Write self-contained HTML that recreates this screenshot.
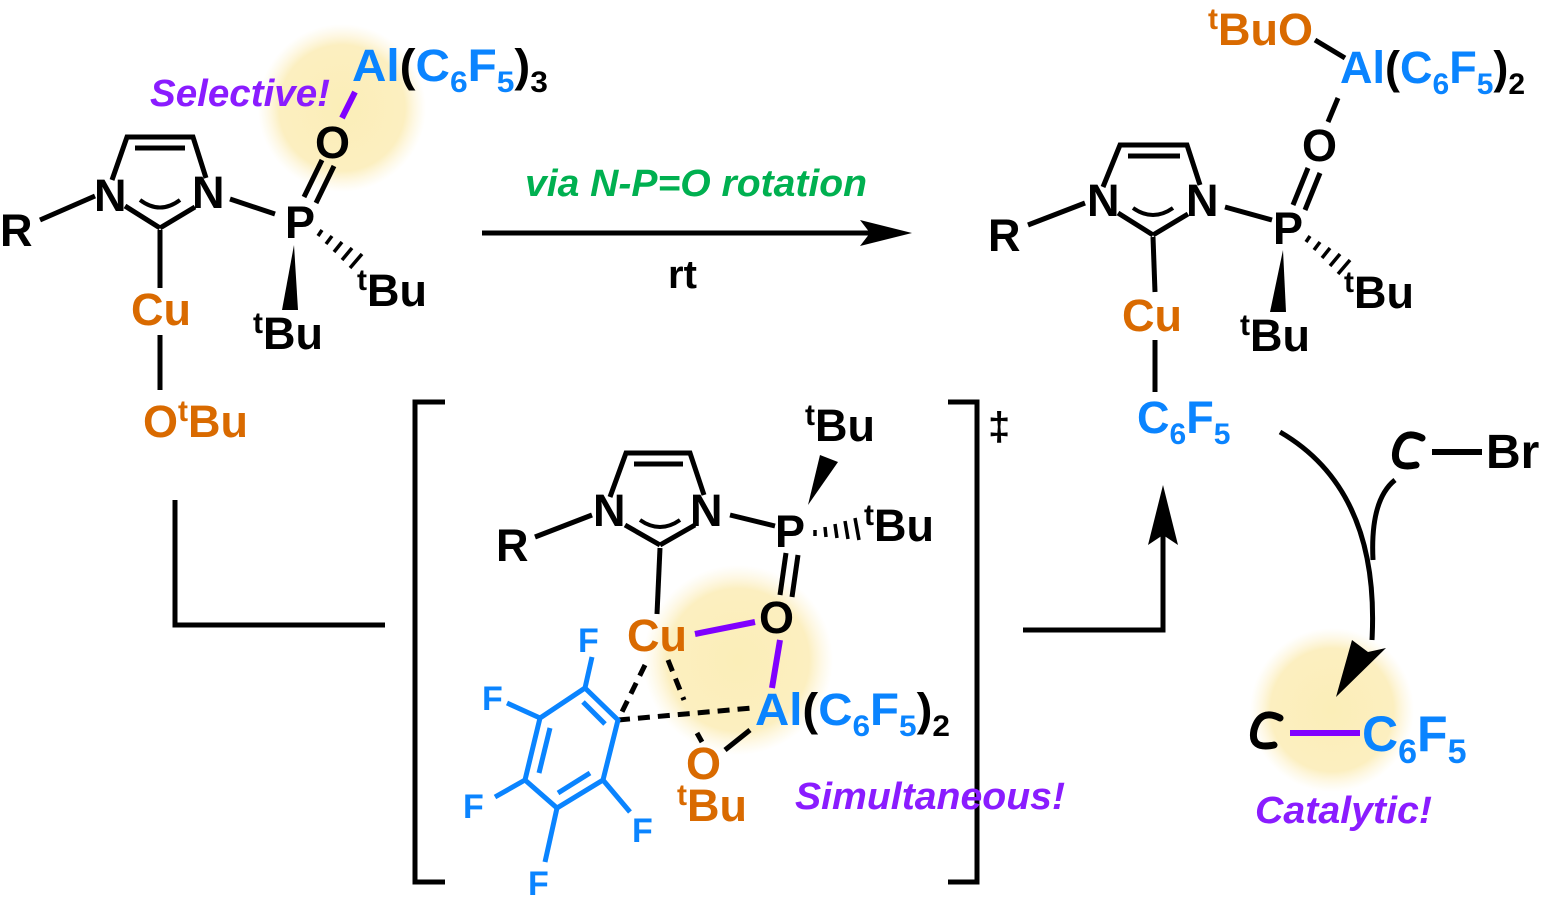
<!DOCTYPE html>
<html><head><style>
html,body{margin:0;padding:0;background:#fff;}
svg{display:block;}
text{font-family:"Liberation Sans",sans-serif;font-weight:bold;}
</style></head><body>
<svg width="1545" height="907" viewBox="0 0 1545 907" xmlns="http://www.w3.org/2000/svg">
<defs>
<radialGradient id="g"><stop offset="0" stop-color="#fbeeb8"/><stop offset="0.75" stop-color="#fcefc0"/><stop offset="1" stop-color="#fdf4d6" stop-opacity="0"/></radialGradient>
</defs>
<circle cx="342" cy="108" r="84" fill="url(#g)"/>
<circle cx="738" cy="660" r="95" fill="url(#g)"/>
<circle cx="1332" cy="710" r="82" fill="url(#g)"/>

<g stroke="#000" stroke-width="5" fill="none" stroke-linecap="butt">
<line x1="40" y1="220" x2="95" y2="196"/>
<polyline points="112,180 127,137 193,137 206,178"/>
<line x1="135" y1="148" x2="185" y2="148"/>
<line x1="125" y1="206" x2="160" y2="228"/>
<line x1="160" y1="228" x2="195" y2="207"/>
<path d="M140,200 Q160,215 180,200" stroke-width="4"/>
<line x1="160" y1="230" x2="160" y2="288"/>
<line x1="160" y1="335" x2="160" y2="390"/>
<line x1="230" y1="199" x2="275" y2="214"/>
<line x1="304" y1="197" x2="322" y2="160"/>
<line x1="316" y1="203" x2="334" y2="166"/>
<line x1="1028" y1="225" x2="1085" y2="203"/>
<polyline points="1103,187 1120,145 1187,145 1200,185"/>
<line x1="1128" y1="156" x2="1180" y2="156"/>
<line x1="1118" y1="213" x2="1153" y2="235"/>
<line x1="1153" y1="235" x2="1188" y2="214"/>
<path d="M1133,208 Q1153,222 1173,208" stroke-width="4"/>
<line x1="1153" y1="237" x2="1155" y2="292"/>
<line x1="1155" y1="340" x2="1155" y2="392"/>
<line x1="1225" y1="207" x2="1272" y2="220"/>
<line x1="1293" y1="205" x2="1308" y2="168"/>
<line x1="1305" y1="210" x2="1320" y2="173"/>
<line x1="1328" y1="122" x2="1338" y2="98"/>
<line x1="1315" y1="40" x2="1345" y2="58"/>
<line x1="535" y1="537" x2="592" y2="515"/>
<polyline points="610,497 626,453 690,453 704,495"/>
<line x1="634" y1="464" x2="683" y2="464"/>
<line x1="625" y1="525" x2="660" y2="545"/>
<line x1="660" y1="545" x2="695" y2="525"/>
<path d="M640,520 Q660,534 680,520" stroke-width="4"/>
<line x1="660" y1="548" x2="657" y2="614"/>
<line x1="730" y1="515" x2="775" y2="526"/>
<line x1="786" y1="553" x2="780" y2="595"/>
<line x1="798" y1="555" x2="792" y2="597"/>
<g stroke-dasharray="12,8">
<line x1="645" y1="665" x2="618" y2="720"/>
<line x1="668" y1="660" x2="684" y2="700"/>
<line x1="618" y1="720" x2="752" y2="708"/>
</g>
<line x1="697" y1="733" x2="702" y2="742"/>
<line x1="725" y1="750" x2="750" y2="730"/>
<polyline points="445,402 415,402 415,882 445,882"/>
<polyline points="948,402 977,402 977,882 948,882"/>
<polyline points="175,500 175,625 385,625"/>
<polyline points="1023,630 1163,630 1163,530"/>
<line x1="482" y1="233" x2="880" y2="233"/>
<path d="M1280,432 Q1380,490 1372,640"/>
<path d="M1395,480 Q1370,500 1373,560"/>
</g>
<polygon points="912,233 860,220 870,233 860,246" fill="#000"/>
<polygon points="1163,485 1148,545 1163,535 1178,545" fill="#000"/>
<polygon points="1336,697 1352,640 1368,652 1386,648" fill="#000"/>
<polygon points="294,245 282,310 298,310" fill="#000"/>
<polygon points="1283,250 1270,312 1286,312" fill="#000"/>
<polygon points="808,505 820,455 838,462" fill="#000"/>
<g stroke="#000" stroke-width="3.5">
<line x1="318" y1="236" x2="322" y2="230"/><line x1="326" y1="244" x2="332" y2="236"/><line x1="334" y1="252" x2="342" y2="242"/><line x1="342" y1="260" x2="352" y2="248"/><line x1="350" y1="268" x2="362" y2="254"/>
<line x1="1306" y1="242" x2="1310" y2="236"/><line x1="1314" y1="250" x2="1320" y2="242"/><line x1="1322" y1="258" x2="1330" y2="248"/><line x1="1330" y1="266" x2="1340" y2="254"/><line x1="1338" y1="274" x2="1350" y2="260"/>
<line x1="815" y1="530" x2="815" y2="536"/><line x1="825" y1="527" x2="826" y2="537"/><line x1="835" y1="524" x2="837" y2="538"/><line x1="845" y1="521" x2="848" y2="539"/><line x1="855" y1="518" x2="859" y2="540"/>
</g>
<g stroke="#8000ff" stroke-width="6">
<line x1="342" y1="118" x2="355" y2="92"/>
<line x1="695" y1="634" x2="755" y2="622"/>
<line x1="780" y1="640" x2="772" y2="688"/>
<line x1="1290" y1="733" x2="1360" y2="733"/>
</g>
<g stroke="#0a84ff" stroke-width="5" fill="none">
<polygon points="585,688 618,720 603,780 557,808 525,780 540,718"/>
<line x1="583" y1="702" x2="605" y2="724"/>
<line x1="550" y1="728" x2="539" y2="773"/>
<line x1="558" y1="793" x2="590" y2="773"/>
<line x1="585" y1="688" x2="592" y2="657"/>
<line x1="540" y1="718" x2="507" y2="703"/>
<line x1="525" y1="780" x2="495" y2="797"/>
<line x1="557" y1="808" x2="545" y2="862"/>
<line x1="603" y1="780" x2="630" y2="812"/>
</g>
<g fill="#0a84ff" font-size="34">
<text x="578" y="652">F</text><text x="482" y="710">F</text><text x="463" y="818">F</text><text x="528" y="895">F</text><text x="632" y="842">F</text>
</g>
<g stroke="#000" stroke-width="7" fill="none" stroke-linecap="round">
<path d="M1422,438 Q1402,428 1396,450 Q1392,470 1416,465"/>
<path d="M1280,718 Q1260,708 1254,730 Q1250,750 1274,745"/>
</g>
<line x1="1432" y1="452" x2="1482" y2="452" stroke="#000" stroke-width="6"/>

<g font-size="45">
<text x="0" y="246" fill="#000">R</text>
<text x="94" y="211" fill="#000">N</text>
<text x="192" y="208" fill="#000">N</text>
<text x="285" y="238" fill="#000">P</text>
<text x="315" y="158" fill="#000">O</text>
<text x="352" y="81" fill="#0a84ff" textLength="196" lengthAdjust="spacingAndGlyphs">Al<tspan fill="#000">(</tspan>C<tspan font-size="30" dy="11">6</tspan><tspan dy="-11">F</tspan><tspan font-size="30" dy="11">5</tspan><tspan fill="#000" dy="-11">)</tspan><tspan fill="#000" font-size="30" dy="11">3</tspan></text>
<text x="131" y="325" fill="#d96a00">Cu</text>
<text x="143" y="437" fill="#d96a00">O<tspan font-size="30" dy="-16">t</tspan><tspan dy="16">Bu</tspan></text>
<text x="357" y="306" fill="#000"><tspan font-size="30" dy="-16">t</tspan><tspan dy="16">Bu</tspan></text>
<text x="253" y="349" fill="#000"><tspan font-size="30" dy="-16">t</tspan><tspan dy="16">Bu</tspan></text>

<text x="988" y="251" fill="#000">R</text>
<text x="1087" y="216" fill="#000">N</text>
<text x="1186" y="216" fill="#000">N</text>
<text x="1273" y="244" fill="#000">P</text>
<text x="1302" y="161" fill="#000">O</text>
<text x="1340" y="83" fill="#0a84ff">Al<tspan fill="#000">(</tspan>C<tspan font-size="30" dy="11">6</tspan><tspan dy="-11">F</tspan><tspan font-size="30" dy="11">5</tspan><tspan fill="#000" dy="-11">)</tspan><tspan fill="#000" font-size="30" dy="11">2</tspan></text>
<text x="1208" y="45" fill="#d96a00"><tspan font-size="30" dy="-16">t</tspan><tspan dy="16">BuO</tspan></text>
<text x="1122" y="331" fill="#d96a00">Cu</text>
<text x="1137" y="433" fill="#0a84ff">C<tspan font-size="30" dy="11">6</tspan><tspan dy="-11">F</tspan><tspan font-size="30" dy="11">5</tspan></text>
<text x="1344" y="308" fill="#000"><tspan font-size="30" dy="-16">t</tspan><tspan dy="16">Bu</tspan></text>
<text x="1240" y="351" fill="#000"><tspan font-size="30" dy="-16">t</tspan><tspan dy="16">Bu</tspan></text>

<text x="496" y="561" fill="#000">R</text>
<text x="593" y="526" fill="#000">N</text>
<text x="690" y="526" fill="#000">N</text>
<text x="775" y="547" fill="#000">P</text>
<text x="805" y="441" fill="#000"><tspan font-size="30" dy="-16">t</tspan><tspan dy="16">Bu</tspan></text>
<text x="864" y="541" fill="#000"><tspan font-size="30" dy="-16">t</tspan><tspan dy="16">Bu</tspan></text>
<text x="759" y="633" fill="#000">O</text>
<text x="627" y="651" fill="#d96a00">Cu</text>
<text x="755" y="725" fill="#0a84ff" textLength="195" lengthAdjust="spacingAndGlyphs">Al<tspan fill="#000">(</tspan>C<tspan font-size="30" dy="11">6</tspan><tspan dy="-11">F</tspan><tspan font-size="30" dy="11">5</tspan><tspan fill="#000" dy="-11">)</tspan><tspan fill="#000" font-size="30" dy="11">2</tspan></text>
<text x="686" y="779" fill="#d96a00">O</text>
<text x="677" y="821" fill="#d96a00"><tspan font-size="30" dy="-16">t</tspan><tspan dy="16">Bu</tspan></text>

<text x="1486" y="468" fill="#000" font-size="48">Br</text>
<text x="1362" y="751" fill="#0a84ff" font-size="50">C<tspan font-size="34" dy="12">6</tspan><tspan dy="-12">F</tspan><tspan font-size="34" dy="12">5</tspan></text>
<text x="988" y="440" fill="#000" font-size="40">‡</text>
<text x="668" y="288" fill="#000" font-size="40">rt</text>
</g>
<g font-style="italic" font-size="38">
<text x="150" y="106" fill="#8a1cff" textLength="180" lengthAdjust="spacingAndGlyphs">Selective!</text>
<text x="525" y="196" fill="#00b050" textLength="342" lengthAdjust="spacingAndGlyphs">via N-P=O rotation</text>
<text x="795" y="809" fill="#8a1cff" textLength="270" lengthAdjust="spacingAndGlyphs">Simultaneous!</text>
<text x="1255" y="823" fill="#8a1cff" textLength="177" lengthAdjust="spacingAndGlyphs">Catalytic!</text>
</g>
</svg>
</body></html>
